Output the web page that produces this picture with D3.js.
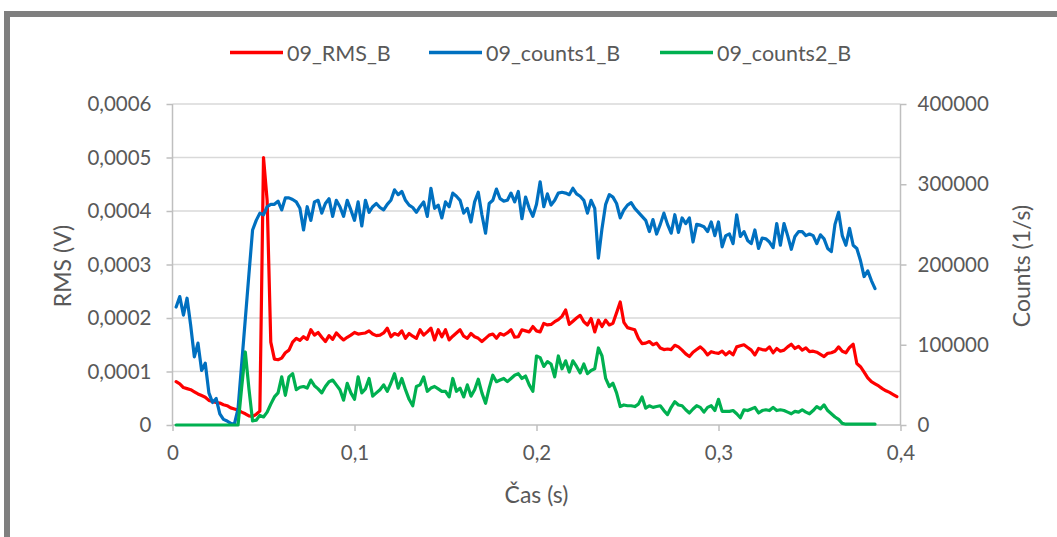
<!DOCTYPE html>
<html>
<head>
<meta charset="utf-8">
<script src="https://cdn.jsdelivr.net/npm/d3@7"></script>
<style>
  html, body { margin: 0; padding: 0; background: #fff; }
  svg { display: block; }
  text { font-family: Lato, "Noto Sans", sans-serif; fill: #595959; }
</style>
</head>
<body>
<svg id="chart" width="1057" height="537"></svg>
<script>
// Sample times in milliseconds (2 ms sampling)
const timeMs = [
  2,4,6,8,10,12,14,16,18,20,22,24,26,28,30,32,34,36,38,40,
  42,44,46,48,50,52,54,56,58,60,62,64,66,68,70,72,74,76,78,80,
  82,84,86,88,90,92,94,96,98,100,102,104,106,108,110,112,114,116,118,120,
  122,124,126,128,130,132,134,136,138,140,142,144,146,148,150,152,154,156,158,160,
  162,164,166,168,170,172,174,176,178,180,182,184,186,188,190,192,194,196,198,200,
  202,204,206,208,210,212,214,216,218,220,222,224,226,228,230,232,234,236,238,240,
  242,244,246,248,250,252,254,256,258,260,262,264,266,268,270,272,274,276,278,280,
  282,284,286,288,290,292,294,296,298,300,302,304,306,308,310,312,314,316,318,320,
  322,324,326,328,330,332,334,336,338,340,342,344,346,348,350,352,354,356,358,360,
  362,364,366,368,370,372,374,376,378,380,382,384,386,388,390,392,394,396,398
];

// 09_RMS_B in microvolts
const rmsMicroV = [
  81,77,70,68,66,62,58,55,52,46,44,42,41,38,36,32,30,28,24,21,
  17,16,20,26,500,420,155,123,122,125,135,
  140,155,162,158,165,160,178,168,173,164,156,167,160,172,165,159,164,168,173,170,
  171,172,176,170,167,168,172,181,165,171,168,176,162,171,166,
  162,178,168,174,181,159,178,165,178,159,166,172,178,166,162,171,165,162,156,162,
  168,170,162,171,168,172,178,164,165,178,176,174,184,176,
  174,190,187,188,193,197,203,215,188,194,200,205,193,187,199,174,196,184,196,187,
  190,210,230,192,182,180,178,162,152,153,156,150,153,144,
  141,142,141,149,146,140,133,128,136,141,146,140,131,137,135,134,138,131,137,131,
  146,148,150,145,140,131,143,141,140,146,135,143,138,
  140,146,151,143,147,140,144,137,138,136,132,128,134,135,138,146,138,135,145,151,
  115,109,99,88,81,77,73,68,64,61,57,53
];

// 09_counts1_B in thousands of counts per second
const counts1K = [
  147,160,137,158,124,85,102,68,77,40,28,33,14,7,5,2,1,20,76,132,
  188,243,255,264,262,272,275,275,279,268,283,
  283,281,278,270,243,272,255,278,280,264,276,282,260,280,272,260,280,268,255,278,
  248,280,265,272,276,271,268,275,280,293,287,291,280,274,271,
  265,272,278,260,295,270,274,258,278,272,289,285,280,264,270,253,278,290,262,239,
  276,280,294,282,279,280,289,278,291,257,284,270,260,275,
  303,272,288,274,280,289,290,289,287,295,288,285,280,264,280,270,208,245,275,287,
  284,276,258,268,274,277,270,265,260,255,241,256,238,250,
  264,250,239,262,240,258,251,258,228,250,249,247,241,253,236,253,222,236,238,226,
  262,235,241,230,226,243,220,233,232,228,221,251,224,
  251,236,219,235,241,241,236,238,236,226,237,232,220,216,250,265,236,224,245,224,
  220,205,185,192,180,170
];

// 09_counts2_B in thousands of counts per second
const counts2K = [
  0,0,0,0,0,0,0,0,0,0,0,0,0,0,0,0,0,0,47,91,
  45,5,6,12,10,16,26,35,40,60,37,
  60,64,44,47,48,46,56,49,45,40,48,54,56,50,44,31,52,40,32,60,
  40,45,58,36,40,44,50,42,52,64,46,58,44,32,24,
  48,50,60,42,46,48,45,42,42,35,58,42,46,35,50,36,44,57,40,27,
  46,62,54,56,58,54,58,62,64,58,61,50,42,86,
  84,73,79,76,60,86,70,80,66,80,73,65,76,64,68,70,96,86,58,48,
  52,40,23,25,24,24,23,26,35,21,24,22,23,24,
  18,13,22,29,25,24,19,15,20,24,22,16,22,24,18,32,17,17,17,18,
  14,9,19,18,20,22,15,18,19,18,22,18,19,
  18,16,14,17,16,19,16,14,18,23,20,25,18,14,10,7,2,1,1,1,
  1,1,1,1,1,1
];

const seriesNames = ["09_RMS_B", "09_counts1_B", "09_counts2_B"];
const seriesColors = ["#ff0000", "#0070c0", "#00b050"];

const xTicks = [0, 0.1, 0.2, 0.3, 0.4];
const leftTicks = [0, 0.0001, 0.0002, 0.0003, 0.0004, 0.0005, 0.0006];
const rightTicks = [0, 100000, 200000, 300000, 400000];

const xTitle = "Čas (s)";
const leftTitle = "RMS (V)";
const rightTitle = "Counts (1/s)";

const svg = d3.select("#chart");

// outer chart-area frame
svg.append("rect")
  .attr("x", 7).attr("y", 14)
  .attr("width", 1200).attr("height", 700)
  .attr("fill", "none")
  .attr("stroke", "#7f7f7f")
  .attr("stroke-width", 6);

const plot = { left: 172.5, right: 900.5, top: 104, bottom: 425 };

const x = d3.scaleLinear().domain([0, 0.4]).range([plot.left, plot.right]);
const yLeft = d3.scaleLinear().domain([0, 0.0006]).range([plot.bottom, plot.top]);
const yRight = d3.scaleLinear().domain([0, 400000]).range([plot.bottom, plot.top]);

const commaFmt = v => String(+v.toFixed(6)).replace(".", ",");

// horizontal gridlines from the primary axis
svg.append("g")
  .selectAll("line")
  .data(leftTicks.filter(d => d > 0))
  .join("line")
  .attr("x1", plot.left).attr("x2", plot.right)
  .attr("y1", d => yLeft(d)).attr("y2", d => yLeft(d))
  .attr("stroke", "#d9d9d9")
  .attr("stroke-width", 1.5);

// x axis
const xAxis = svg.append("g")
  .attr("transform", `translate(0,${plot.bottom})`)
  .call(d3.axisBottom(x).tickValues(xTicks).tickSize(6).tickPadding(14).tickFormat(commaFmt));

// left axis
const lAxis = svg.append("g")
  .attr("transform", `translate(${plot.left},0)`)
  .call(d3.axisLeft(yLeft).tickValues(leftTicks).tickSize(6).tickPadding(15).tickFormat(commaFmt));

// right axis
const rAxis = svg.append("g")
  .attr("transform", `translate(${plot.right},0)`)
  .call(d3.axisRight(yRight).tickValues(rightTicks).tickSize(6).tickPadding(11).tickFormat(d3.format("d")));

[xAxis, lAxis, rAxis].forEach(g => {
  g.select(".domain").attr("stroke", "#bfbfbf").attr("stroke-width", 1.5);
  g.selectAll(".tick line").attr("stroke", "#bfbfbf").attr("stroke-width", 1.5);
  g.selectAll(".tick text")
    .attr("fill", "#595959")
    .style("font-family", "Lato, 'Noto Sans', sans-serif")
    .style("font-size", "20.5px");
});
lAxis.select(".domain").attr("d", `M0,${plot.bottom}V${plot.top}`);
rAxis.select(".domain").attr("d", `M0,${plot.bottom}V${plot.top}`);
xAxis.select(".domain").attr("d", `M${plot.left},0H${plot.right}`);

// series lines
const times = timeMs.map(t => t / 1000);
const lineOf = (values, toY) => d3.line()
  .x((d, i) => x(times[i]))
  .y(d => toY(d))(values);

const lines = svg.append("g").attr("fill", "none")
  .attr("stroke-width", 3.2)
  .attr("stroke-linejoin", "round")
  .attr("stroke-linecap", "round");

lines.append("path")
  .attr("d", lineOf(rmsMicroV, v => yLeft(v * 1e-6)))
  .attr("stroke", seriesColors[0]);
lines.append("path")
  .attr("d", lineOf(counts1K, v => yRight(v * 1000)))
  .attr("stroke", seriesColors[1]);
lines.append("path")
  .attr("d", lineOf(counts2K, v => yRight(v * 1000)))
  .attr("stroke", seriesColors[2]);

// axis titles
svg.append("text")
  .attr("x", (plot.left + plot.right) / 2).attr("y", 494)
  .attr("text-anchor", "middle").attr("dominant-baseline", "central")
  .style("font-size", "23px")
  .text(xTitle);

svg.append("text")
  .attr("transform", "translate(62,266) rotate(-90)")
  .attr("text-anchor", "middle").attr("dominant-baseline", "central")
  .style("font-size", "23px")
  .text(leftTitle);

svg.append("text")
  .attr("transform", "translate(1021,266) rotate(-90)")
  .attr("text-anchor", "middle").attr("dominant-baseline", "central")
  .style("font-size", "23px")
  .text(rightTitle);

// legend
const legendX = [230, 429, 660];
const legend = svg.append("g");
seriesNames.forEach((name, i) => {
  legend.append("line")
    .attr("x1", legendX[i]).attr("x2", legendX[i] + 53)
    .attr("y1", 52.5).attr("y2", 52.5)
    .attr("stroke", seriesColors[i])
    .attr("stroke-width", 3.5);
  legend.append("text")
    .attr("x", legendX[i] + 57).attr("y", 53)
    .attr("dominant-baseline", "central")
    .style("font-size", "21.5px")
    .text(name);
});
</script>
</body>
</html>
